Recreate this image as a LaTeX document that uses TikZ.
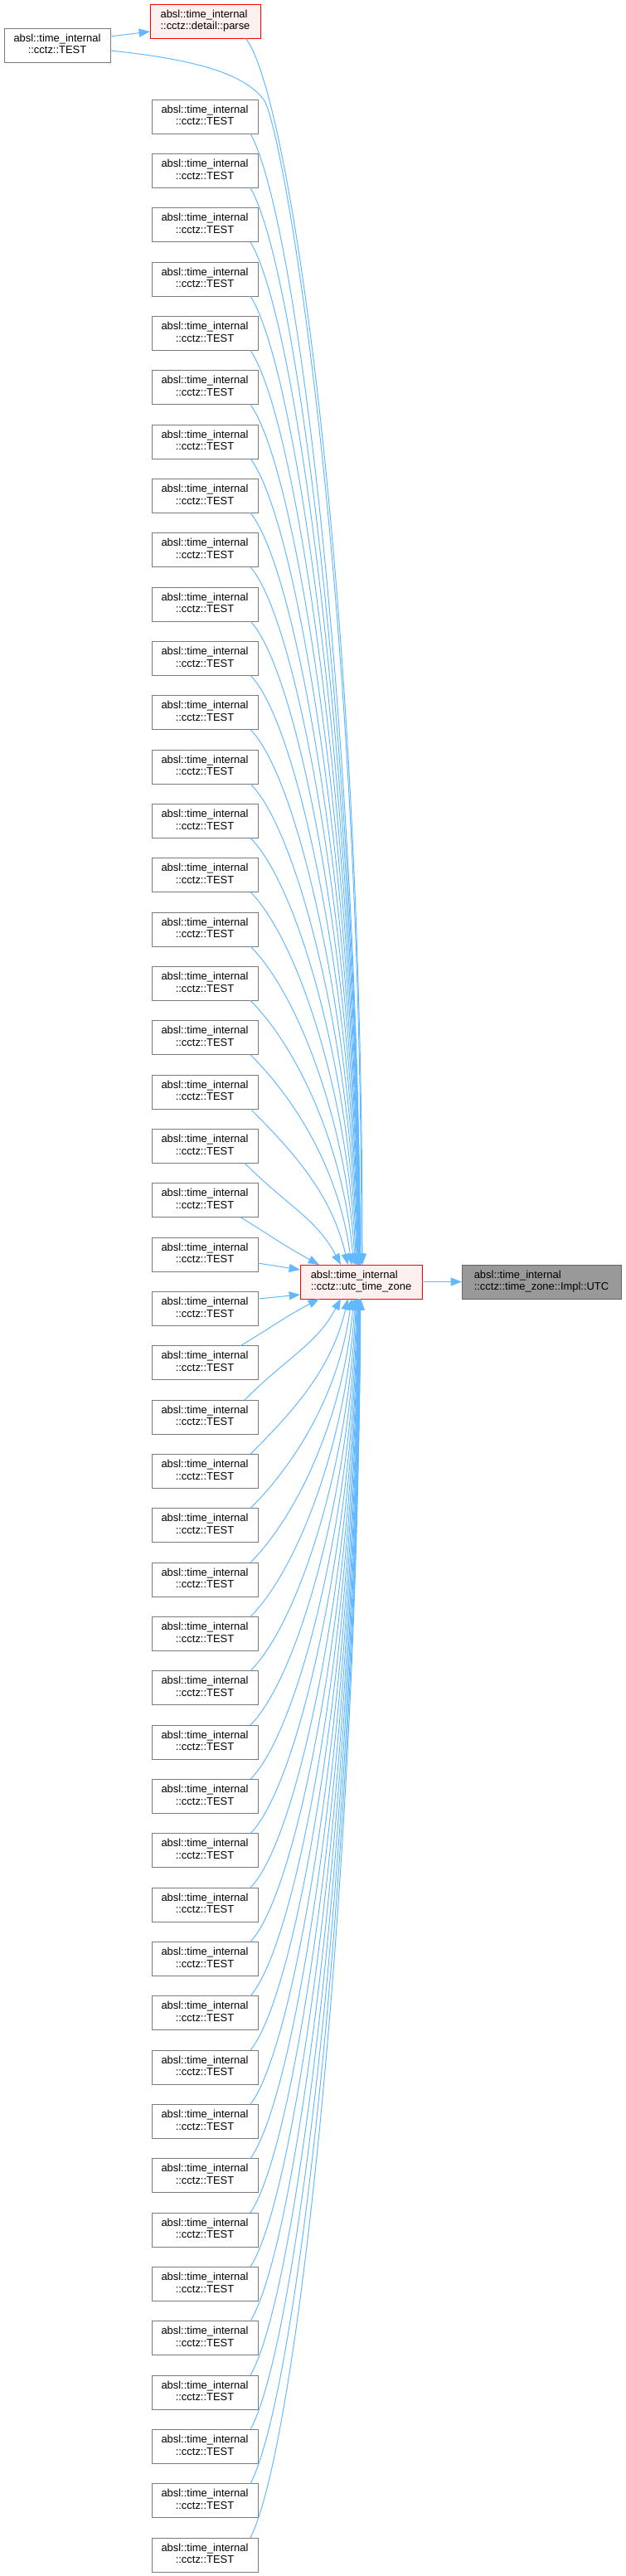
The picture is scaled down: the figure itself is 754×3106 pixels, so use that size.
\documentclass[tikz,border=0pt]{standalone}
\usepackage{fontspec}
\setmainfont{Liberation Sans}
\usetikzlibrary{arrows.meta,calc}
\definecolor{edgeblue}{HTML}{63B8FF}
\definecolor{nodegray}{HTML}{7A7A7A}
\definecolor{redfill}{HTML}{FFF0F0}
\definecolor{utcfill}{HTML}{999999}
\definecolor{utcborder}{HTML}{666666}
\newlength\lwa \newlength\lwb
\newcommand\lbl[2]{\settowidth\lwa{#1}\settowidth\lwb{#2}\ifdim\lwb>\lwa\lwa=\lwb\fi\begin{tabular}{@{}c@{}}\makebox[\lwa][l]{#1}\\#2\end{tabular}}
\begin{document}
\begin{tikzpicture}[x=0.75pt,y=-0.75pt,
 box/.style={draw=nodegray, fill=white, line width=0.75pt, inner sep=0pt, outer sep=0pt, minimum width=96pt, minimum height=30.75pt, font=\fontsize{9.7}{10.9}\selectfont},
 redbox/.style={box, draw=red, fill=redfill},
 edge/.style={draw=edgeblue, line width=0.75pt, -{Triangle[length=10pt,width=7.5pt]}}]
\useasboundingbox (0,0) rectangle (754,3106);
\node[box] (t0) at (69,54.5) {\lbl{absl::time\_internal}{::cctz::TEST}};
\node[redbox, minimum width=99.75pt] (parse) at (247.5,25.5) {\lbl{absl::time\_internal}{::cctz::detail::parse}};
\foreach \i in {0,...,45} \node[box] (c\i) at (247, 140.5+65.333*\i) {\lbl{absl::time\_internal}{::cctz::TEST}};
\node[redbox, minimum width=110.25pt] (utc) at (435.5,1545.5) {\lbl{absl::time\_internal}{::cctz::utc\_time\_zone}};
\node[box, fill=utcfill, draw=utcborder, minimum width=144pt] (impl) at (653,1545.5) {\lbl{absl::time\_internal}{::cctz::time\_zone::Impl::UTC}};
\draw[edge] ($(t0.east)+(0,-10.5)$) -- ($(parse.west)+(0,12.5)$);
\draw[edge] (utc.east) -- (impl.west);
\draw[edge] ($(t0.east)+(0,6.5)$) .. controls +(107,11) and +(-23,-30) .. ($(t0.east)+(185,65.5)$) .. controls +(23,30) and +(0,-825) .. ($(utc.north west)+(74,0)$);
\draw[edge] ($(parse.south east)+(-18,0)$) .. controls +(54,64) and +(0,-800) .. ($(utc.north west)+(75,0)$);
\foreach \i in {0,...,20} {
 \pgfmathsetmacro\k{21-\i}
 \pgfmathsetmacro\so{\k==1 ? -21 : (\k==2 ? -16 : -9)}
 \pgfmathsetmacro\sx{311+\so}
 \pgfmathsetmacro\sy{160.5+65.333*\i}
 \pgfmathsetmacro\xe{437-52/\k}
 \pgfmathsetmacro\dx{\xe-\sx}
 \pgfmathsetmacro\dy{1525-\sy}
 \pgfmathsetmacro\ca{0.45*\dx}
 \pgfmathsetmacro\cb{min(0.45*\dy,max(0.08*\dy,0.45*\dx))}
 \pgfmathsetmacro\cc{-0.5*\dx/\k}
 \pgfmathsetmacro\cd{-0.45*\dy}
 \pgfmathsetmacro\eo{\xe-362}
 \draw[edge] ($(c\i.south east)+(\so,0)$) .. controls +(\ca,\cb) and +(\cc,\cd) .. ($(utc.north west)+(\eo,0)$);
}
\foreach \i in {23,...,45} {
 \pgfmathsetmacro\k{\i-22}
 \pgfmathsetmacro\so{\k==1 ? -21 : (\k==2 ? -16 : -9)}
 \pgfmathsetmacro\sx{311+\so}
 \pgfmathsetmacro\sy{120+65.333*\i}
 \pgfmathsetmacro\xe{437-52/\k}
 \pgfmathsetmacro\dx{\xe-\sx}
 \pgfmathsetmacro\ady{\sy-1566}
 \pgfmathsetmacro\ca{0.45*\dx}
 \pgfmathsetmacro\cb{-min(0.45*\ady,max(0.08*\ady,0.45*\dx))}
 \pgfmathsetmacro\cc{-0.5*\dx/\k}
 \pgfmathsetmacro\cd{0.45*\ady}
 \pgfmathsetmacro\eo{\xe-362}
 \draw[edge] ($(c\i.north east)+(\so,0)$) .. controls +(\ca,\cb) and +(\cc,\cd) .. ($(utc.south west)+(\eo,0)$);
}
\draw[edge] ($(c21.east)+(0,10.5)$) -- ($(utc.west)+(0,-14.5)$);
\draw[edge] ($(c22.east)+(0,-11.8)$) -- ($(utc.west)+(0,15.5)$);
\end{tikzpicture}
\end{document}
